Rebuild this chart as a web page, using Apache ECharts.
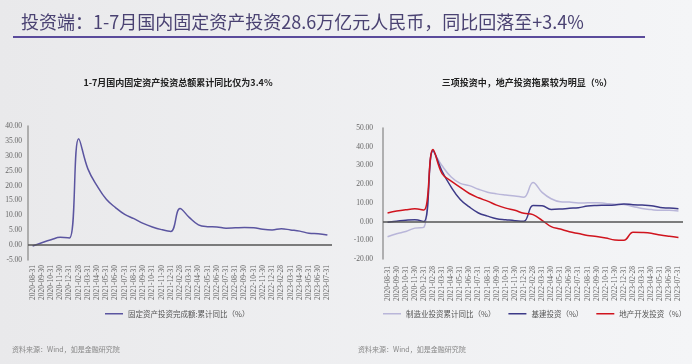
<!DOCTYPE html>
<html>
<head>
<meta charset="utf-8">
<script src="https://cdn.jsdelivr.net/npm/echarts@6/dist/echarts.min.js"></script>
<style>
html,body{margin:0;padding:0;}
#c{width:692px;height:364px;}
</style>
</head>
<body>
<div id="c"></div>
<script>
const categories = ['2020-08-31','2020-09-30','2020-10-31','2020-11-30','2020-12-31',
'2021-02-28','2021-03-31','2021-04-30','2021-05-31','2021-06-30','2021-07-31','2021-08-31','2021-09-30','2021-10-31','2021-11-30','2021-12-31',
'2022-02-28','2022-03-31','2022-04-30','2022-05-31','2022-06-30','2022-07-31','2022-08-31','2022-09-30','2022-10-31','2022-11-30','2022-12-31',
'2023-02-28','2023-03-31','2023-04-30','2023-05-31','2023-06-30','2023-07-31'];

const faiYoY = [-0.3,0.8,1.8,2.6,2.4, 35.7,25.6,19.9,15.4,12.6,10.3,8.9,7.3,6.1,5.2,4.6, 12.3,9.3,6.8,6.2,6.1,5.7,5.8,5.9,5.8,5.3,5.1, 5.5,5.1,4.7,4.0,3.8,3.4];
const mfgYoY = [-8.1,-6.5,-5.3,-3.5,-3.0, 37.3,29.8,23.8,20.4,19.2,17.3,15.7,14.8,14.2,13.7,13.0, 20.9,15.6,12.2,10.6,10.4,9.9,10.0,10.1,9.7,9.3,9.1, 8.1,7.0,6.4,6.0,6.0,5.7];
const infraYoY = [-0.3,0.2,0.7,1.0,0.0, 38.0,26.9,18.4,11.8,7.8,4.6,2.9,1.5,1.0,0.5,0.2, 8.6,8.5,6.5,6.7,7.1,7.4,8.3,8.6,8.7,8.9,9.4, 9.0,8.8,8.5,7.5,7.2,6.8];
const reYoY = [4.6,5.6,6.3,6.8,6.2, 38.5,25.6,21.6,18.3,15.0,12.7,10.9,8.8,7.2,6.0,4.4, 3.7,0.7,-2.7,-4.0,-5.4,-6.4,-7.4,-8.0,-8.8,-9.8,-10.0, -5.7,-5.8,-6.2,-7.2,-7.9,-8.5];

const leftLegend = ['固定资产投资完成额:累计同比（%）'];
const rightLegend = ['制造业投资累计同比（%）','基建投资（%）','地产开发投资（%）'];

const serif = 'Liberation Serif';
const cjk = 'Noto Sans CJK SC';

function xAxisCfg(gi){
  return {type:'category', gridIndex:gi, data:categories, boundaryGap:true,
    axisLine:{show:false}, axisTick:{show:false},
    axisLabel:{rotate:90, interval:0, fontSize:7.5, fontFamily:serif, color:'#666', margin:gi===0?5:7}};
}
function yAxisCfg(gi,min,max,interval){
  return {type:'value', gridIndex:gi, min:min, max:max, interval:interval,
    splitLine:{show:false}, axisTick:{show:false},
    axisLine:{show:true, onZero:false, lineStyle:{color:'#9a9a9a', width:1.5}},
    axisLabel:{fontSize:7.5, fontFamily:serif, color:'#666', margin:gi===0?6:10,
      formatter:v=>v.toFixed(2)}};
}
const zeroLine = {symbol:'none', silent:true, label:{show:false},
  lineStyle:{color:'#555', width:1.5, type:'solid'}, data:[{yAxis:0}]};

const chart = echarts.init(document.getElementById('c'));
chart.setOption({
  animation:false,
  backgroundColor:{type:'linear',x:0,y:0,x2:1,y2:0,colorStops:[{offset:0,color:'#e9e9eb'},{offset:1,color:'#f4f5f7'}]},
  title:[
    {text:'投资端：1-7月国内固定资产投资28.6万亿元人民币，同比回落至+3.4%', left:16, top:8,
      textStyle:{fontFamily:cjk, fontSize:18, fontWeight:'normal', color:'#4a4272'}},
    {text:'1-7月国内固定资产投资总额累计同比仅为3.4%', left:173, textAlign:'center', top:73,
      textStyle:{fontFamily:cjk, fontSize:9, fontWeight:'bold', color:'#222'}},
    {text:'三项投资中，地产投资拖累较为明显（%）', left:522, textAlign:'center', top:73,
      textStyle:{fontFamily:cjk, fontSize:9, fontWeight:'bold', color:'#222'}},
    {text:'资料来源：Wind，如是金融研究院', left:7, top:341,
      textStyle:{fontFamily:cjk, fontSize:7, fontWeight:'normal', color:'#888'}},
    {text:'资料来源：Wind，如是金融研究院', left:353, top:341,
      textStyle:{fontFamily:cjk, fontSize:7, fontWeight:'normal', color:'#888'}}
  ],
  graphic:[{type:'line', shape:{x1:13,y1:37,x2:645,y2:37}, style:{stroke:'#5a4b9b', lineWidth:2}}],
  legend:[
    {data:leftLegend, left:100, top:305, icon:'rect', itemWidth:18, itemHeight:1.5,
      textStyle:{fontFamily:cjk, fontSize:7.5, color:'#555'}},
    {data:rightLegend, left:378, top:305, width:320, icon:'rect', itemWidth:18, itemHeight:1.5, itemGap:13,
      textStyle:{fontFamily:cjk, fontSize:7.5, color:'#555'}}
  ],
  grid:[
    {left:28, top:126, width:304, height:134},
    {left:383, top:128, width:300, height:131}
  ],
  xAxis:[xAxisCfg(0), xAxisCfg(1)],
  yAxis:[yAxisCfg(0,-5,40,5), yAxisCfg(1,-20,50,10)],
  series:[
    {name:leftLegend[0], type:'line', xAxisIndex:0, yAxisIndex:0, data:faiYoY, smooth:0.4,
      showSymbol:false, lineStyle:{color:'#5b55a0', width:1.5}, itemStyle:{color:'#5b55a0'}, markLine:zeroLine},
    {name:rightLegend[0], type:'line', xAxisIndex:1, yAxisIndex:1, data:mfgYoY, smooth:0.4,
      showSymbol:false, lineStyle:{color:'#b9b6d9', width:1.5}, itemStyle:{color:'#b9b6d9'}, markLine:zeroLine},
    {name:rightLegend[1], type:'line', xAxisIndex:1, yAxisIndex:1, data:infraYoY, smooth:0.4,
      showSymbol:false, lineStyle:{color:'#3d3a88', width:1.5}, itemStyle:{color:'#3d3a88'}},
    {name:rightLegend[2], type:'line', xAxisIndex:1, yAxisIndex:1, data:reYoY, smooth:0.4,
      showSymbol:false, lineStyle:{color:'#d0141e', width:1.5}, itemStyle:{color:'#d0141e'}}
  ]
});
</script>
</body>
</html>
